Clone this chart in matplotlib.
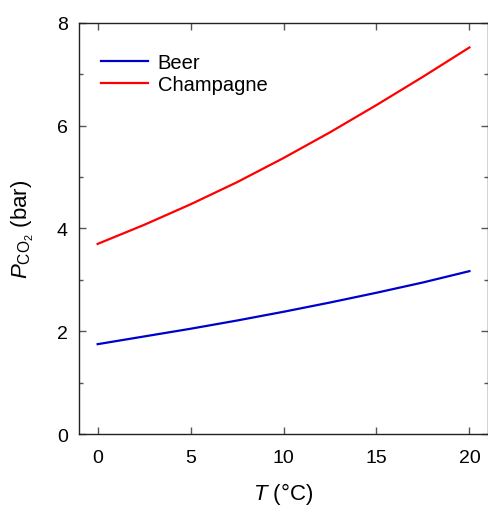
import matplotlib
matplotlib.use('Agg')
import matplotlib.pyplot as plt
from matplotlib.ticker import MultipleLocator

plt.rcParams['font.family'] = ['Liberation Sans', 'DejaVu Sans']
plt.rcParams['mathtext.fontset'] = 'custom'
plt.rcParams['mathtext.rm'] = 'Liberation Sans'
plt.rcParams['mathtext.it'] = 'Liberation Sans:italic'

# Donnees
temperature = [0, 2.5, 5, 7.5, 10, 12.5, 15, 17.5, 20]
p_beer = [1.75, 1.90, 2.05, 2.21, 2.38, 2.56, 2.75, 2.95, 3.17]
p_champagne = [3.70, 4.07, 4.47, 4.90, 5.37, 5.87, 6.40, 6.95, 7.52]
x_ticks = [0, 5, 10, 15, 20]
y_ticks = [0, 2, 4, 6, 8]

fig = plt.figure(figsize=(4.88, 5.06), dpi=100)
ax = fig.add_axes([0.162, 0.140, 0.838, 0.813])

ax.plot(temperature, p_beer, color='#0000CC', lw=1.6, label='Beer')
ax.plot(temperature, p_champagne, color='#FF0000', lw=1.6, label='Champagne')

ax.set_xlim(-1, 21)
ax.set_ylim(0, 8)
ax.set_xticks(x_ticks)
ax.set_yticks(y_ticks)
ax.yaxis.set_minor_locator(MultipleLocator(1))
ax.tick_params(which='both', direction='in', top=True, right=True,
               color='#555555', labelsize=14)
ax.tick_params(axis='x', pad=11)
ax.tick_params(axis='y', pad=8)
ax.tick_params(which='major', length=5, width=1)
ax.tick_params(which='minor', length=3, width=1)
for s in ax.spines.values():
    s.set_color('#222222')
    s.set_linewidth(1)

ax.set_xlabel(r'$T$ (°C)', fontsize=16, labelpad=10)
ax.set_ylabel(r'$P_{\mathrm{CO_2}}$ (bar)', fontsize=16, labelpad=15)

ax.legend(loc='upper left', frameon=False, fontsize=14.5, handlelength=2.3,
          handletextpad=0.5, labelspacing=0.15, borderaxespad=0,
          bbox_to_anchor=(0.035, 0.945))

fig.savefig('out.png', dpi=100)
